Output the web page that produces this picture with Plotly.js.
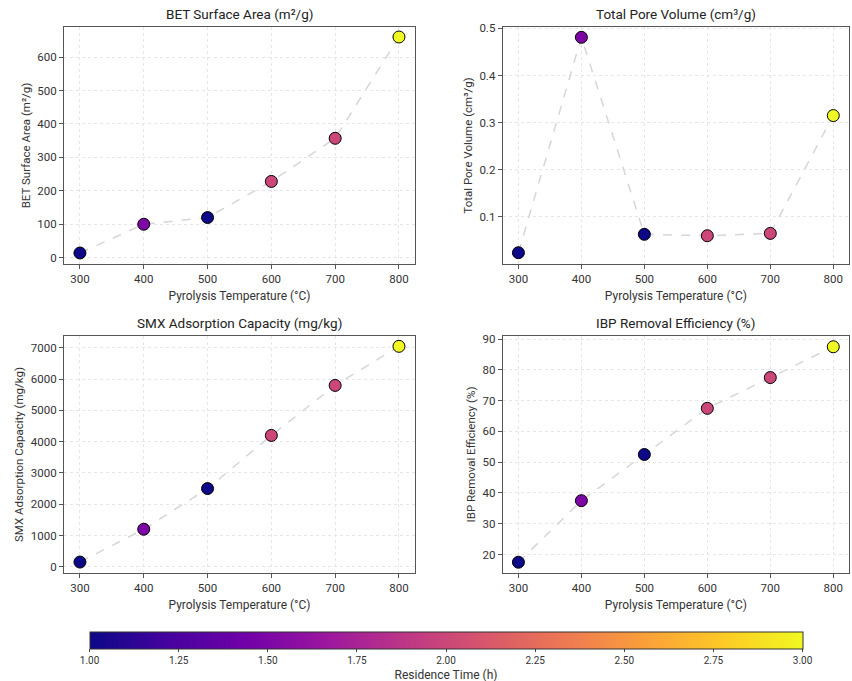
<!DOCTYPE html>
<html>
<head>
<meta charset="utf-8">
<script src="https://cdn.plot.ly/plotly-3.0.1.min.js"></script>
<style>html,body{margin:0;padding:0;background:#fff;}#chart{width:852px;height:681px;}</style>
</head>
<body>
<div id="chart"></div>
<script>
const temperature = [300, 400, 500, 600, 700, 800];
const residenceTime = [1.0, 1.5, 1.0, 2.0, 2.0, 3.0];
const betSurfaceArea = [14, 100, 120, 228, 357, 660];
const totalPoreVolume = [0.024, 0.481, 0.063, 0.060, 0.065, 0.315];
const smxCapacity = [150, 1200, 2500, 4200, 5800, 7050];
const ibpEfficiency = [17.5, 37.5, 52.5, 67.5, 77.5, 87.5];

const panelTitles = ["BET Surface Area (m²/g)", "Total Pore Volume (cm³/g)", "SMX Adsorption Capacity (mg/kg)", "IBP Removal Efficiency (%)"];
const yTitles = ["BET Surface Area (m²/g)", "Total Pore Volume (cm³/g)", "SMX Adsorption Capacity (mg/kg)", "IBP Removal Efficiency (%)"];
const xTitle = "Pyrolysis Temperature (°C)";
const seriesList = [betSurfaceArea, totalPoreVolume, smxCapacity, ibpEfficiency];
const plasma = [[0,'#0d0887'],[0.111,'#46039f'],[0.222,'#7201a8'],[0.333,'#9c179e'],[0.444,'#bd3786'],[0.556,'#d8576b'],[0.667,'#ed7953'],[0.778,'#fb9f3a'],[0.889,'#fdca26'],[1,'#f0f921']];

const FONT = "Roboto, 'Open Sans', sans-serif";
const traces = [];
seriesList.forEach((vals, i) => {
  const n = i + 1;
  const xa = 'x' + (n === 1 ? '' : n), ya = 'y' + (n === 1 ? '' : n);
  traces.push({
    x: temperature, y: vals, xaxis: xa, yaxis: ya, type: 'scatter', mode: 'lines',
    line: {color: '#d6d6d6', width: 1.5, dash: 'dash'}, hoverinfo: 'skip', showlegend: false
  });
  traces.push({
    x: temperature, y: vals, xaxis: xa, yaxis: ya, type: 'scatter', mode: 'markers',
    marker: {size: 12, color: residenceTime, coloraxis: 'coloraxis', line: {color: '#000', width: 1}},
    showlegend: false
  });
});

const xDom = [[0.0751, 0.487], [0.590, 0.9965]];
const yDom = [[0.6123, 0.9604], [0.1586, 0.5066]];
const yRanges = [[-19, 690], [0.0, 0.503], [-200, 7380], [14, 91]];
const yTicks = [[0,100,200,300,400,500,600], [0.1,0.2,0.3,0.4,0.5], [0,1000,2000,3000,4000,5000,6000,7000], [20,30,40,50,60,70,80,90]];

const layout = {
  width: 852, height: 681,
  margin: {l: 0, r: 0, t: 0, b: 0, autoexpand: false},
  paper_bgcolor: '#fff', plot_bgcolor: '#fff',
  font: {family: FONT, size: 11, color: '#333'},
  showlegend: false,
  coloraxis: {
    colorscale: plasma, cmin: 1, cmax: 3,
    colorbar: {
      orientation: 'h', x: 0.5235, xanchor: 'center', len: 0.837, lenmode: 'fraction',
      xpad: 0, ypad: 0,
      y: 0.072, yanchor: 'top', thickness: 17, thicknessmode: 'pixels',
      outlinecolor: '#333', outlinewidth: 1,
      tickvals: [1, 1.25, 1.5, 1.75, 2, 2.25, 2.5, 2.75, 3],
      ticktext: ['1.00','1.25','1.50','1.75','2.00','2.25','2.50','2.75','3.00'],
      ticks: 'outside', ticklen: 3, tickfont: {size: 10, family: FONT, color: '#333'},
      title: {text: 'Residence Time (h)', side: 'bottom', font: {size: 12, family: FONT, color: '#333'}}
    }
  },
  annotations: []
};

for (let i = 0; i < 4; i++) {
  const n = i + 1;
  const col = i % 2, row = Math.floor(i / 2);
  const xk = 'xaxis' + (n === 1 ? '' : n), yk = 'yaxis' + (n === 1 ? '' : n);
  const xa = 'x' + (n === 1 ? '' : n), ya = 'y' + (n === 1 ? '' : n);
  const common = {
    showline: true, linecolor: '#555', linewidth: 1, mirror: true,
    showgrid: true, gridcolor: '#e6e6e6', griddash: 'dot', gridwidth: 1,
    zeroline: false, ticks: 'outside', ticklen: 4, tickcolor: '#555',
    tickfont: {size: 11.5, family: FONT, color: '#333'}
  };
  layout[xk] = Object.assign({}, common, {
    domain: xDom[col], anchor: ya, range: [275, 825],
    tickvals: [300, 400, 500, 600, 700, 800],
    title: {text: xTitle, font: {size: 12, family: FONT, color: '#333'}, standoff: 6}
  });
  layout[yk] = Object.assign({}, common, {
    domain: yDom[row], anchor: xa, range: yRanges[i], tickvals: yTicks[i],
    title: {text: yTitles[i], font: {size: 11.5, family: FONT, color: '#333'}, standoff: 4}
  });
  layout.annotations.push({
    text: panelTitles[i], xref: 'paper', yref: 'paper',
    x: (xDom[col][0] + xDom[col][1]) / 2, y: yDom[row][1] + 0.004,
    xanchor: 'center', yanchor: 'bottom', showarrow: false,
    font: {size: 13.5, family: FONT, color: '#222'}
  });
}

Plotly.newPlot('chart', traces, layout, {staticPlot: true});
</script>
</body>
</html>
